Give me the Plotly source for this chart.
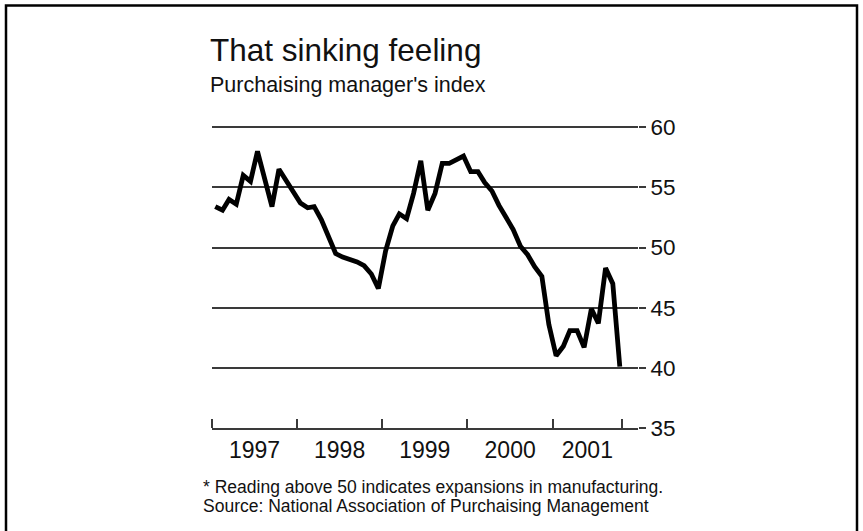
import plotly.graph_objects as go

# Monthly purchasing manager's index, Jan 1997 - Oct 2001
months = [f"{1997 + i // 12}-{i % 12 + 1:02d}-15" for i in range(58)]
pmi = [
    53.4, 53.1, 54.0, 53.6, 56.0, 55.5, 58.0, 55.6, 53.4, 56.5, 55.5, 54.6,  # 1997
    53.7, 53.3, 53.4, 52.3, 50.8, 49.5, 49.2, 49.0, 48.8, 48.5, 47.8, 46.6,  # 1998
    49.7, 51.8, 52.8, 52.4, 54.5, 57.2, 53.1, 54.5, 57.0, 57.0, 57.3, 57.6,  # 1999
    56.3, 56.3, 55.4, 54.7, 53.5, 52.4, 51.5, 50.1, 49.4, 48.4, 47.6, 43.6,  # 2000
    41.0, 41.8, 43.1, 43.1, 41.7, 44.9, 43.7, 48.3, 47.0, 40.1,              # 2001
]

year_labels = ["1997", "1998", "1999", "2000", "2001"]
year_label_pos = ["1997-07-02", "1998-07-02", "1999-07-02", "2000-07-02", "2001-05-29"]
year_marks = ["1997-01-01", "1998-01-01", "1999-01-01", "2000-01-01", "2001-01-01", "2001-10-24"]
y_ticks = [35, 40, 45, 50, 55, 60]

title = "That sinking feeling"
subtitle = "Purchaising manager's index"
note = "* Reading above 50 indicates expansions in manufacturing."
source = "Source: National Association of Purchaising Management"

W, H = 863, 531
Y_MIN, Y_MAX = 35, 60.1          # a little headroom so the 60 gridline is drawn
PX_PER_UNIT = 12.02
L, R, B = 212, 638, 428          # plot area in pixels
T = B - (Y_MAX - Y_MIN) * PX_PER_UNIT
FONT = "Liberation Sans, Arial, Helvetica, sans-serif"
INK = "#111111"
GRID = "#3a3a3a"


def px_x(x):
    return (x - L) / (R - L)


def px_y(y):
    return (B - y) / (B - T)


fig = go.Figure()
fig.add_trace(go.Scatter(
    x=months, y=pmi, mode="lines",
    line=dict(color="#000000", width=4.8),
    hoverinfo="skip", showlegend=False,
))

fig.update_layout(
    width=W, height=H,
    margin=dict(l=L, r=W - R, t=T, b=H - B, pad=0),
    paper_bgcolor="white", plot_bgcolor="white",
    font=dict(family=FONT, color=INK),
    xaxis=dict(
        type="date",
        range=["1997-01-01", "2002-01-01"],
        tickmode="array", tickvals=year_label_pos, ticktext=year_labels,
        ticks="", showgrid=False, zeroline=False,
        showline=True, linecolor=GRID, linewidth=2,
        tickfont=dict(size=23, color=INK),
        minor=dict(tickmode="array", tickvals=year_marks, ticks="inside",
                   ticklen=9, tickwidth=1.5, tickcolor=GRID, showgrid=False),
    ),
    yaxis=dict(
        side="right", range=[Y_MIN, Y_MAX],
        tickmode="array", tickvals=y_ticks,
        ticks="outside", ticklen=7, tickwidth=2, tickcolor=GRID,
        showgrid=True, gridcolor=GRID, gridwidth=2,
        zeroline=False, showline=False,
        tickfont=dict(size=22.5, color=INK),
    ),
    shapes=[dict(
        type="rect", xref="paper", yref="paper",
        x0=px_x(6), x1=px_x(857), y0=px_y(560), y1=px_y(6),
        line=dict(color="#000000", width=2.5), fillcolor="rgba(0,0,0,0)",
    )],
)

texts = [
    (title, 208, 50, 31.5),
    (subtitle, 208, 85, 21.5),
    (note, 201, 487, 17.5),
    (source, 201, 506, 17.5),
]
for txt, x, y, size in texts:
    fig.add_annotation(
        text=txt, xref="paper", yref="paper",
        x=px_x(x), y=px_y(y), xanchor="left", yanchor="middle",
        showarrow=False, font=dict(size=size, color=INK, family=FONT),
    )

fig.write_html("out.html")
